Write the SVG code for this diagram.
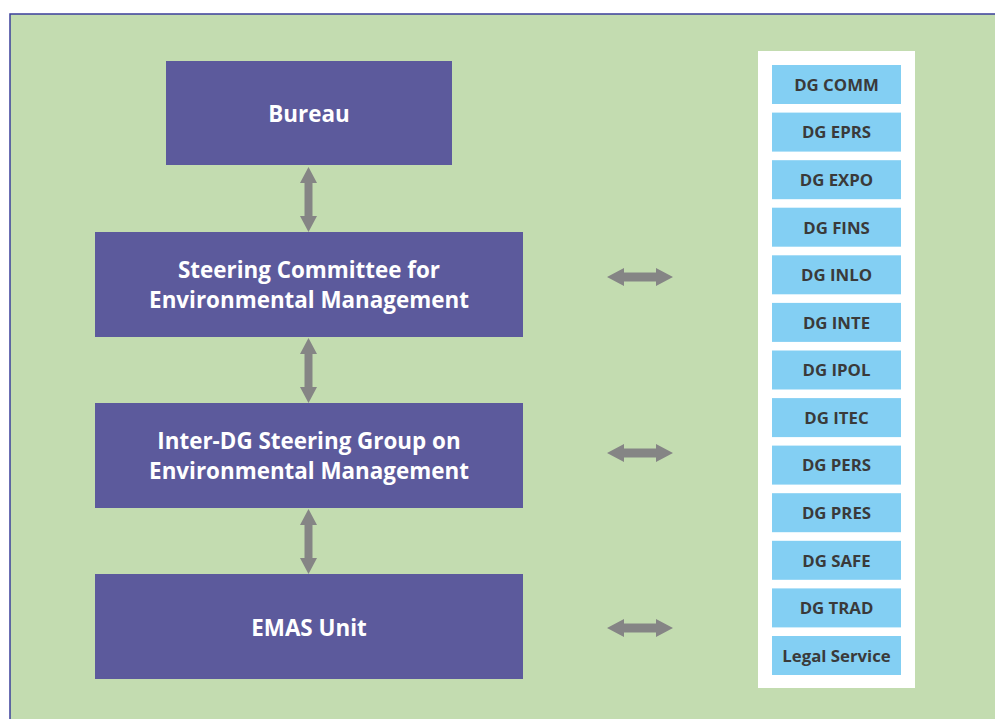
<svg xmlns="http://www.w3.org/2000/svg" width="995" height="719" viewBox="0 0 995 719">
<defs>
<style>
.bg{fill:#c3dcb0}
.frame{fill:none;stroke:#3b3f9a;stroke-width:1.5}
.node{fill:#5c5a9c}
.nt{fill:#ffffff;font-family:"Open Sans","Liberation Sans",sans-serif;font-weight:bold;font-size:22.4px;text-anchor:middle}
.dg{fill:#83cff3}
.dt{fill:#3a3a3a;font-family:"Open Sans","Liberation Sans",sans-serif;font-weight:bold;font-size:16.8px;text-anchor:middle}
.arr{fill:#858585}
</style>
<path id="va" d="M0,0 L8.5,16 L4,16 L4,49 L8.5,49 L0,65 L-8.5,49 L-4,49 L-4,16 L-8.5,16 Z"/>
<path id="ha" d="M0,0 L17,-9 L17,-4.5 L49,-4.5 L49,-9 L66,0 L49,9 L49,4.5 L17,4.5 L17,9 Z"/>
</defs>
<rect x="0" y="0" width="995" height="719" fill="#ffffff"/>
<rect class="bg" x="10" y="14" width="990" height="710"/>
<path class="frame" d="M10,724 L10,14 L1000,14"/>
<rect x="758" y="51" width="157" height="637" fill="#ffffff"/>

<g id="bureau"><rect class="node" x="166" y="61" width="286" height="104"/><text class="nt" x="309" y="121.5">Bureau</text></g>
<g id="steering-committee"><rect class="node" x="95" y="232" width="428" height="105"/><text class="nt" x="309" y="278">Steering Committee for</text><text class="nt" x="309" y="308">Environmental Management</text></g>
<g id="inter-dg"><rect class="node" x="95" y="403" width="428" height="105"/><text class="nt" x="309" y="449">Inter-DG Steering Group on</text><text class="nt" x="309" y="479">Environmental Management</text></g>
<g id="emas"><rect class="node" x="95" y="574" width="428" height="105"/><text class="nt" x="309" y="635.5">EMAS Unit</text></g>

<g id="dg-list">
<g id="dg-comm"><rect class="dg" x="772" y="65" width="129" height="39"/><text class="dt" x="836.5" y="90.8">DG COMM</text></g>
<g id="dg-eprs"><rect class="dg" x="772" y="112.6" width="129" height="39"/><text class="dt" x="836.5" y="138.4">DG EPRS</text></g>
<g id="dg-expo"><rect class="dg" x="772" y="160.2" width="129" height="39"/><text class="dt" x="836.5" y="186">DG EXPO</text></g>
<g id="dg-fins"><rect class="dg" x="772" y="207.7" width="129" height="39"/><text class="dt" x="836.5" y="233.5">DG FINS</text></g>
<g id="dg-inlo"><rect class="dg" x="772" y="255.3" width="129" height="39"/><text class="dt" x="836.5" y="281.1">DG INLO</text></g>
<g id="dg-inte"><rect class="dg" x="772" y="302.9" width="129" height="39"/><text class="dt" x="836.5" y="328.7">DG INTE</text></g>
<g id="dg-ipol"><rect class="dg" x="772" y="350.5" width="129" height="39"/><text class="dt" x="836.5" y="376.3">DG IPOL</text></g>
<g id="dg-itec"><rect class="dg" x="772" y="398.1" width="129" height="39"/><text class="dt" x="836.5" y="423.9">DG ITEC</text></g>
<g id="dg-pers"><rect class="dg" x="772" y="445.6" width="129" height="39"/><text class="dt" x="836.5" y="471.4">DG PERS</text></g>
<g id="dg-pres"><rect class="dg" x="772" y="493.2" width="129" height="39"/><text class="dt" x="836.5" y="519">DG PRES</text></g>
<g id="dg-safe"><rect class="dg" x="772" y="540.8" width="129" height="39"/><text class="dt" x="836.5" y="566.6">DG SAFE</text></g>
<g id="dg-trad"><rect class="dg" x="772" y="588.4" width="129" height="39"/><text class="dt" x="836.5" y="614.2">DG TRAD</text></g>
<g id="legal-service"><rect class="dg" x="772" y="636" width="129" height="39"/><text class="dt" x="836.5" y="661.8">Legal Service</text></g>
</g>

<g id="connectors" class="arr">
<use href="#va" x="308.5" y="167"/>
<use href="#va" x="308.5" y="338"/>
<use href="#va" x="308.5" y="509"/>
<use href="#ha" x="607" y="277"/>
<use href="#ha" x="607" y="453"/>
<use href="#ha" x="607" y="628"/>
</g>
</svg>
